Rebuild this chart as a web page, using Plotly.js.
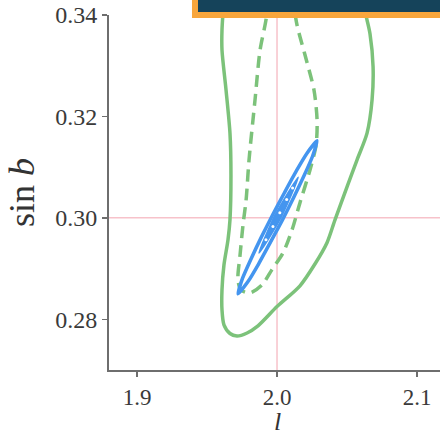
<!DOCTYPE html>
<html>
<head>
<meta charset="utf-8">
<script src="https://cdn.plot.ly/plotly-3.0.1.min.js"></script>
<style>html,body{margin:0;padding:0;background:#fff;overflow:hidden}#chart{width:440px;height:438px}</style>
</head>
<body>
<div id="chart"></div>
<script>
// Truth values (crosshair)
const truthL = 2.0;
const truthSinB = 0.30;

// Outer green contour (solid)
const outerL = [1.9621,1.9607,1.9607,1.9636,1.9664,1.9671,1.9664,1.9650,1.9621,1.9607,1.9607,1.9621,1.9664,1.9714,1.9786,1.9864,2.0000,2.0164,2.0271,2.0357,2.0414,2.0500,2.0571,2.0643,2.0679,2.0686,2.0664,2.0643,2.0607];
const outerSinB = [0.3430,0.3370,0.3331,0.3252,0.3167,0.3085,0.2996,0.2957,0.2907,0.2858,0.2819,0.2789,0.2772,0.2767,0.2773,0.2787,0.2825,0.2866,0.2909,0.2951,0.2996,0.3061,0.3114,0.3167,0.3233,0.3298,0.3363,0.3390,0.3430];

// Inner green contour (dashed)
const innerL = [1.9936,1.9921,1.9879,1.9843,1.9800,1.9779,1.9757,1.9736,1.9721,1.9743,1.9807,1.9893,1.9964,2.0043,2.0107,2.0164,2.0236,2.0279,2.0286,2.0264,2.0200,2.0143,2.0114];
const innerSinB = [0.3430,0.3390,0.3331,0.3233,0.3114,0.3035,0.2986,0.2927,0.2878,0.2858,0.2852,0.2868,0.2898,0.2931,0.2976,0.3030,0.3095,0.3144,0.3193,0.3252,0.3321,0.3380,0.3430];

// Blue contour (thin ellipse)
const blueL = [1.9721,1.9794,1.9868,1.9955,2.0039,2.0119,2.0196,2.0253,2.0286,2.0213,2.0139,2.0052,1.9969,1.9888,1.9811,1.9754,1.9721];
const blueSinB = [0.2850,0.2875,0.2909,0.2953,0.2996,0.3040,0.3085,0.3121,0.3152,0.3127,0.3093,0.3049,0.3006,0.2962,0.2917,0.2881,0.2850];

// Blue inner filled core
const coreL = [1.9872,2.0022,2.0151,1.9985,1.9872];
const coreSinB = [0.2931,0.2998,0.3080,0.3004,0.2931];

// White speckles inside the core
const speckL = [1.9921,1.9971,2.0020,2.0069,2.0111];
const speckSinB = [0.2957,0.2983,0.3010,0.3036,0.3059];

// Axis ticks
const xTicks = [1.9, 2.0, 2.1];
const xTickText = ['1.9', '2.0', '2.1'];
const yTicks = [0.28, 0.30, 0.32, 0.34];
const yTickText = ['0.28', '0.30', '0.32', '0.34'];

// Axis titles
const xTitle = '<i>l</i>';
const yTitle = 'sin <i>b</i>';

const GREEN = '#7cc27a';
const BLUE = '#4495ef';
const PINK = '#f7c2ca';
const SERIF = 'Liberation Serif, DejaVu Serif, serif';

const traces = [
  {x: outerL, y: outerSinB, mode: 'lines', line: {color: GREEN, width: 3.5, shape: 'spline', smoothing: 0.8}, hoverinfo: 'skip'},
  {x: innerL, y: innerSinB, mode: 'lines', line: {color: GREEN, width: 3.5, dash: '12px,7px', shape: 'spline', smoothing: 0.8}, hoverinfo: 'skip'},
  {x: blueL, y: blueSinB, mode: 'lines', line: {color: BLUE, width: 3.5, shape: 'spline', smoothing: 0.6}, hoverinfo: 'skip'},
  {x: coreL, y: coreSinB, mode: 'lines', fill: 'toself', fillcolor: BLUE, line: {color: BLUE, width: 2, shape: 'spline', smoothing: 0.6}, hoverinfo: 'skip'},
  {x: speckL, y: speckSinB, mode: 'markers', marker: {color: '#ffffff', size: 3}, hoverinfo: 'skip'}
];

const layout = {
  width: 440, height: 438,
  margin: {l: 109, r: 0, t: 15, b: 68},
  paper_bgcolor: '#ffffff', plot_bgcolor: '#ffffff',
  showlegend: false,
  xaxis: {
    range: [1.88, 2.1164], showgrid: false, zeroline: false,
    showline: true, linecolor: '#6e6e6e', linewidth: 2, mirror: false,
    ticks: 'outside', ticklen: 5, tickwidth: 1.5, tickcolor: '#6e6e6e',
    tickvals: xTicks, ticktext: xTickText,
    tickfont: {family: SERIF, size: 23, color: '#3a3a3a'}
  },
  yaxis: {
    range: [0.27, 0.34], showgrid: false, zeroline: false,
    showline: true, linecolor: '#6e6e6e', linewidth: 2, mirror: false,
    ticks: 'outside', ticklen: 5, tickwidth: 1.5, tickcolor: '#6e6e6e',
    tickvals: yTicks, ticktext: yTickText,
    tickfont: {family: SERIF, size: 24, color: '#3a3a3a'},
    title: {text: yTitle, font: {family: SERIF, size: 36, color: '#333333'}, standoff: 10}
  },
  annotations: [
    {text: xTitle, xref: 'paper', yref: 'paper', x: 0.5076, y: 0, xanchor: 'center', yanchor: 'top', yshift: -36, showarrow: false,
     borderpad: 0, font: {family: SERIF, size: 26, color: '#333333'}}
  ],
  shapes: [
    {type: 'line', xref: 'x', yref: 'paper', x0: truthL, x1: truthL, y0: 0, y1: 1, line: {color: PINK, width: 1.5}, layer: 'below'},
    {type: 'line', xref: 'paper', yref: 'y', x0: 0, x1: 1, y0: truthSinB, y1: truthSinB, line: {color: PINK, width: 1.5}, layer: 'below'},
    {type: 'rect', xref: 'paper', yref: 'paper', x0: 0.2598, x1: 1.05, y0: 1.0, y1: 1.1, line: {color: '#f8a63c', width: 6}, fillcolor: '#15435a', layer: 'above'}
  ]
};

Plotly.newPlot('chart', traces, layout, {staticPlot: true, displayModeBar: false});
</script>
</body>
</html>
